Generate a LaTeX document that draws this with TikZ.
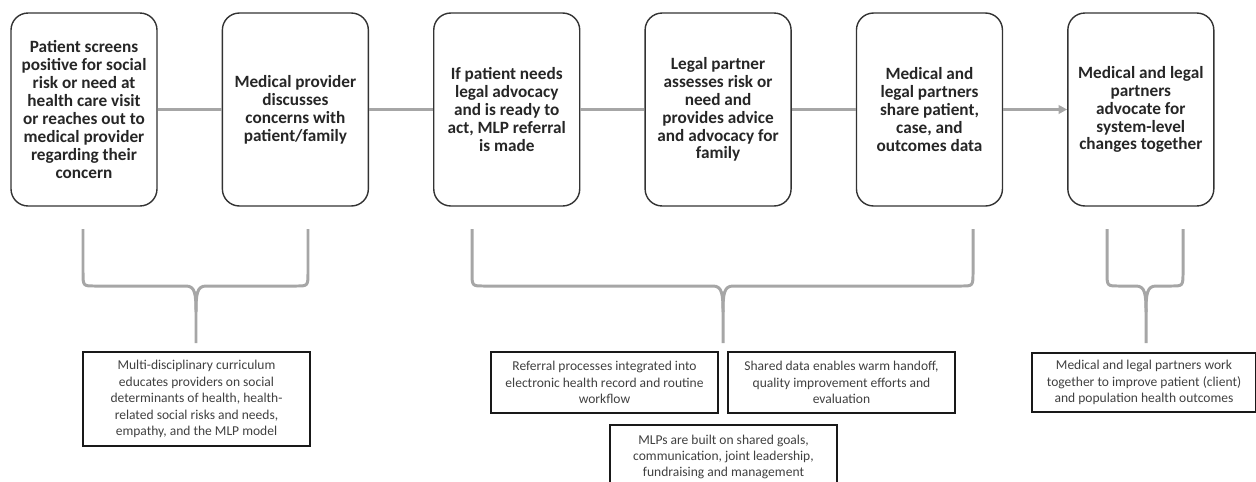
\documentclass[tikz,border=0pt]{standalone}
\usepackage{fontspec}
\setmainfont{Carlito}
\usetikzlibrary{positioning}
\usetikzlibrary{arrows.meta}
\definecolor{linkgray}{HTML}{A6A6A6}
\definecolor{boxtext}{HTML}{262626}
\definecolor{notetext}{HTML}{404040}

\begin{document}
\begin{tikzpicture}[x=0.02cm, y=-0.02cm,
      stepbox/.style={draw=black!80, line width=0.8pt,
        rounded corners=0.34cm,
        minimum width=2.92cm, minimum height=3.86cm,
        align=center, inner sep=1pt, text=boxtext,
        font=\fontsize{9.8}{10.2}\selectfont\bfseries},
      note/.style={draw=black!90, line width=1.1pt,
        align=center, inner sep=1pt, text=notetext,
        font=\fontsize{7.7}{9.35}\selectfont},
      link/.style={draw=linkgray, line width=1.7pt},
      brace/.style={draw=linkgray, line width=1.7pt}
      ]
    \useasboundingbox (0,0) rectangle (1256,481);

    \node (b1) [stepbox] at (84,109.5) {Patient screens\\positive for social\\risk or need at\\health care visit\\or reaches out to\\medical provider\\regarding their\\concern};
    \node (b2) [stepbox, right=1.28cm of b1] {Medical provider\\discusses\\concerns with\\patient/family};
    \node (b3) [stepbox, right=1.28cm of b2] {If patient needs\\legal advocacy\\and is ready to\\act, MLP referral\\is made};
    \node (b4) [stepbox, right=1.28cm of b3] {Legal partner\\assesses risk or\\need and\\provides advice\\and advocacy for\\family};
    \node (b5) [stepbox, right=1.28cm of b4] {Medical and\\legal partners\\share patient,\\case, and\\outcomes data};
    \node (b6) [stepbox, right=1.28cm of b5] {Medical and legal\\partners\\advocate for\\system-level\\changes together};

    \draw [link] (b1) -- (b2);
    \draw [link] (b2) -- (b3);
    \draw [link] (b3) -- (b4);
    \draw [link] (b4) -- (b5);
    \draw [link, -{Triangle[length=0.17cm, width=0.17cm]}] (b5) -- (b6);

    % braces
    \draw [brace] (83,229) -- (83,272) .. controls (83,286) .. (95,286)
      -- (186,286) .. controls (195,286) and (196,294) .. (196,312) -- (196,343);
    \draw [brace] (308,229) -- (308,272) .. controls (308,286) .. (296,286)
      -- (206,286) .. controls (197,286) and (196,294) .. (196,312);

    \draw [brace] (472,229) -- (472,272) .. controls (472,286) .. (484,286)
      -- (713,286) .. controls (722,286) and (723,294) .. (723,312) -- (723,343);
    \draw [brace] (973,229) -- (973,272) .. controls (973,286) .. (961,286)
      -- (733,286) .. controls (724,286) and (723,294) .. (723,312);

    \draw [brace] (1107,229) -- (1107,272) .. controls (1107,286) .. (1119,286)
      -- (1136,286) .. controls (1145,286) and (1146,294) .. (1146,312) -- (1146,343);
    \draw [brace] (1183,229) -- (1183,272) .. controls (1183,286) .. (1171,286)
      -- (1156,286) .. controls (1147,286) and (1146,294) .. (1146,312);

    \node (n1) [note, minimum width=4.54cm, minimum height=1.88cm] at (196.5,399)
      {Multi-disciplinary curriculum\\educates providers on social\\determinants of health, health-\\related social risks and needs,\\empathy, and the MLP model};
    \node (n2) [note, minimum width=4.54cm, minimum height=1.22cm] at (604.5,382.5)
      {Referral processes integrated into\\electronic health record and routine\\workflow};
    \node (n3) [note, minimum width=4.54cm, minimum height=1.22cm] at (841.5,382.5)
      {Shared data enables warm handoff,\\quality improvement efforts and\\evaluation};
    \node (n4) [note, minimum width=4.54cm, minimum height=1.28cm] at (723.5,457)
      {MLPs are built on shared goals,\\communication, joint leadership,\\fundraising and management};
    \node (n5) [note, minimum width=4.48cm, minimum height=1.18cm] at (1144,382.5)
      {Medical and legal partners work\\together to improve patient (client)\\and population health outcomes};
  \end{tikzpicture}
\end{document}
